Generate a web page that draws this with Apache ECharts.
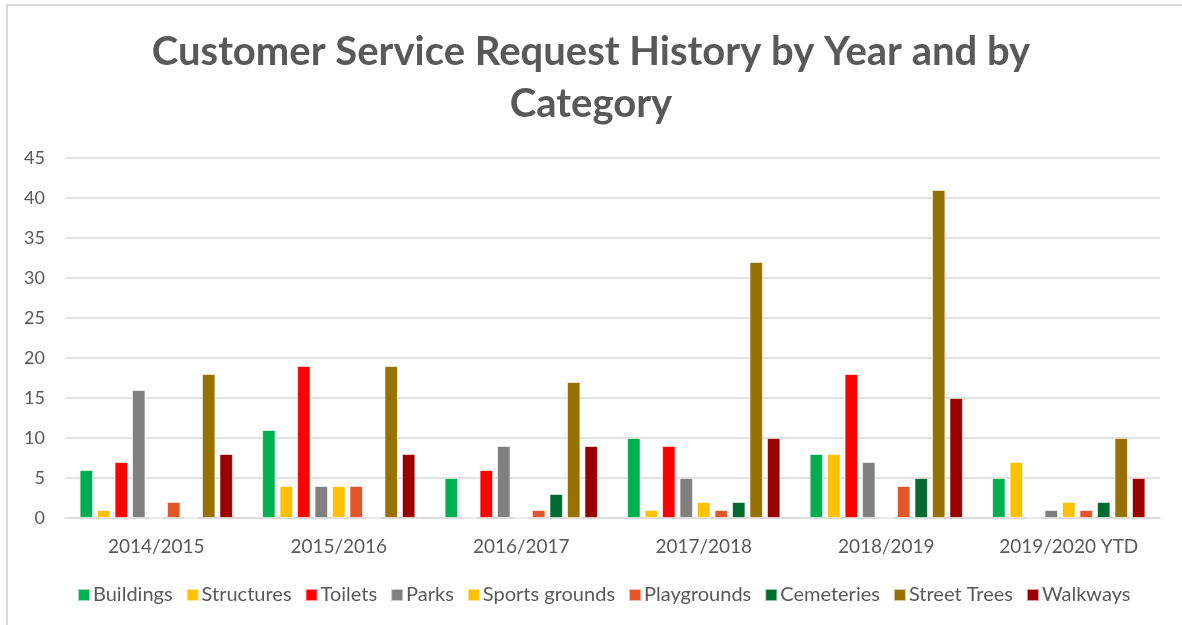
<!DOCTYPE html>
<html>
<head>
<meta charset="utf-8">
<script src="https://cdn.jsdelivr.net/npm/echarts@6/dist/echarts.min.js"></script>
<style>
  html, body { margin: 0; padding: 0; background: #fff; }
  #frame { position: absolute; left: 6px; top: 4px; width: 1200px; height: 640px;
           border-left: 2px solid #d9d9d9; border-top: 2px solid #d9d9d9; box-sizing: border-box; }
  #chart { position: absolute; left: 0; top: 0; width: 1182px; height: 625px; }
</style>
</head>
<body>
<div id="frame"></div>
<div id="chart"></div>
<script>
// Financial years shown along the x axis
const years = ['2014/2015', '2015/2016', '2016/2017', '2017/2018', '2018/2019', '2019/2020 YTD'];

// Request counts per category, one value per year
const buildings     = [6, 11, 5, 10, 8, 5];
const structures    = [1, 4, 0, 1, 8, 7];
const toilets       = [7, 19, 6, 9, 18, 0];
const parks         = [16, 4, 9, 5, 7, 1];
const sportsGrounds = [0, 4, 0, 2, 0, 2];
const playgrounds   = [2, 4, 1, 1, 4, 1];
const cemeteries    = [0, 0, 3, 2, 5, 2];
const streetTrees   = [18, 19, 17, 32, 41, 10];
const walkways      = [8, 8, 9, 10, 15, 5];

// Y axis range
const yMin = 0, yMax = 45, yStep = 5;

const seriesDefs = [
  ['Buildings', buildings, '#00B050'],
  ['Structures', structures, '#FFC000'],
  ['Toilets', toilets, '#FF0000'],
  ['Parks', parks, '#808080'],
  ['Sports grounds', sportsGrounds, '#FFC000'],
  ['Playgrounds', playgrounds, '#E2562A'],
  ['Cemeteries', cemeteries, '#006B30'],
  ['Street Trees', streetTrees, '#987200'],
  ['Walkways', walkways, '#990000']
];

const font = 'Lato, "Open Sans", sans-serif';
const chart = echarts.init(document.getElementById('chart'));
chart.setOption({
  animation: false,
  backgroundColor: 'transparent',
  title: {
    text: 'Customer Service Request History by Year and by\nCategory',
    left: 'center',
    top: 21,
    textStyle: { fontFamily: font, fontSize: 40, fontWeight: 'bold', color: '#595959', lineHeight: 52 }
  },
  legend: {
    bottom: 15,
    left: 72,
    itemWidth: 12,
    itemHeight: 12,
    itemGap: 13,
    icon: 'rect',
    textStyle: { fontFamily: font, fontSize: 20, color: '#595959', padding: [0, 0, 0, -2] },
    data: seriesDefs.map(d => d[0])
  },
  grid: { left: 65, right: 22, top: 158, bottom: 107, containLabel: false },
  xAxis: {
    type: 'category',
    data: years,
    axisLine: { lineStyle: { color: '#d9d9d9', width: 1.5 } },
    axisTick: { show: false },
    axisLabel: { fontFamily: font, fontSize: 19, color: '#595959', margin: 19 }
  },
  yAxis: {
    type: 'value',
    min: yMin, max: yMax, interval: yStep,
    axisLine: { show: false },
    axisTick: { show: false },
    splitLine: { lineStyle: { color: '#d9d9d9', width: 1.5 } },
    axisLabel: { fontFamily: font, fontSize: 18, color: '#595959', margin: 20 }
  },
  series: seriesDefs.map(([name, data, color]) => ({
    name, type: 'bar', data,
    barGap: '30%',
    barCategoryGap: '16%',
    itemStyle: { color, borderColor: 'rgba(255,255,255,0.6)', borderWidth: 1 }
  }))
});
</script>
</body>
</html>
